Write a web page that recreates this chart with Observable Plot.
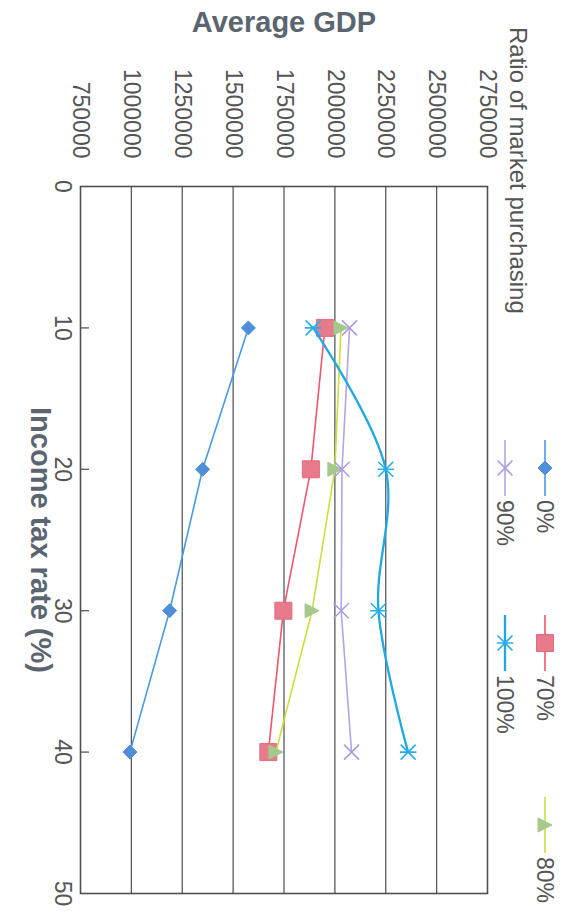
<!DOCTYPE html>
<html>
<head>
<meta charset="utf-8">
<script src="https://cdn.jsdelivr.net/npm/d3@7"></script>
<script src="https://cdn.jsdelivr.net/npm/@observablehq/plot@0.6"></script>
<style>
  html, body { margin: 0; padding: 0; background: #fff; overflow: hidden; }
  body { width: 567px; height: 912px; position: relative; }
  /* the sheet is laid out landscape and turned a quarter clockwise onto the page */
  #sheet {
    position: absolute; left: 0; top: 0; width: 912px; height: 567px;
    transform-origin: 0 0; transform: translate(567px, 0) rotate(90deg);
    font-family: "Liberation Sans", Arial, sans-serif; color: #555;
  }
  #sheet svg.plot { position: absolute; left: 0; top: 0; }
  #legend { position: absolute; left: 0; top: 0; width: 912px; height: 78px; font-size: 23px; color: #555; }
  #legend .ltitle { position: absolute; left: 27px; top: 36px; line-height: 26px; font-size: 24px; white-space: nowrap; }
  #legend .item { position: absolute; display: flex; align-items: center; gap: 4px; line-height: 24px; white-space: nowrap; }
  #legend svg { display: block; overflow: visible; }
</style>
</head>
<body>
<div id="sheet"><div id="chart"></div><div id="legend"></div></div>
<script>
// Income tax rates (%) on the horizontal axis
const taxRates = [10, 20, 30, 40];

// Average GDP for each ratio of market purchasing
const gdp0   = [1575000, 1350000, 1188000, 993000];
const gdp70  = [1951000, 1882000, 1747000, 1673000];
const gdp80  = [2030000, 2000000, 1888000, 1710000];
const gdp90  = [2072000, 2035000, 2031000, 2082000];
const gdp100 = [1893000, 2250000, 2214000, 2360000];

const seriesNames = ["0%", "70%", "80%", "90%", "100%"];
const gdpTicks = [750000, 1000000, 1250000, 1500000, 1750000, 2000000, 2250000, 2500000, 2750000];
const taxTicks = [0, 10, 20, 30, 40, 50];

// spreadsheet-style marker shapes; r is the half-extent of the marker
const half = size => Math.sqrt(size / Math.PI);
const diamondSym = {draw(c, size) { const r = half(size); c.moveTo(0, -r); c.lineTo(r, 0); c.lineTo(0, r); c.lineTo(-r, 0); c.closePath(); }};
const squareSym = {draw(c, size) { const r = half(size); c.moveTo(-r, -r); c.lineTo(r, -r); c.lineTo(r, r); c.lineTo(-r, r); c.closePath(); }};
const triangleSym = {draw(c, size) { const r = half(size); c.moveTo(0, -r); c.lineTo(r, r); c.lineTo(-r, r); c.closePath(); }};
const timesSym = {draw(c, size) { const r = half(size); c.moveTo(-r, -r); c.lineTo(r, r); c.moveTo(r, -r); c.lineTo(-r, r); }};
const asteriskSym = {draw(c, size) { const r = half(size); c.moveTo(-r, -r); c.lineTo(r, r); c.moveTo(r, -r); c.lineTo(-r, r); c.moveTo(0, -r * 1.1); c.lineTo(0, r * 1.1); }};

const series = [
  {name: seriesNames[0], values: gdp0,   line: "#4a9ae2", width: 1.6, curve: "linear",      symbol: diamondSym,  r: 7,   fill: "#4f8fda", stroke: "#4f8fda", sw: 1},
  {name: seriesNames[1], values: gdp70,  line: "#f0566c", width: 1.6, curve: "linear",      symbol: squareSym,   r: 8.5, fill: "#e77b8c", stroke: "#e36a80", sw: 1},
  {name: seriesNames[2], values: gdp80,  line: "#cddf3c", width: 1.6, curve: "linear",      symbol: triangleSym, r: 7,   fill: "#a5c98c", stroke: "#a5c98c", sw: 1},
  {name: seriesNames[3], values: gdp90,  line: "#b4a4e8", width: 1.6, curve: "linear",      symbol: timesSym,    r: 7.5, fill: "none",    stroke: "#ab9be4", sw: 1.6},
  {name: seriesNames[4], values: gdp100, line: "#1fa8e4", width: 2.3, curve: "catmull-rom", symbol: asteriskSym, r: 7.5, fill: "none",    stroke: "#2aaee8", sw: 1.6}
];

const W = 912, H = 567;
const margin = {top: 79, right: 19, bottom: 81, left: 186};
const frameH = H - margin.top - margin.bottom;
const ink = "#555b61";

const seriesMarks = series.flatMap(s => {
  const rows = taxRates.map((t, i) => ({tax: t, gdp: s.values[i]}));
  return [
    Plot.line(rows, {x: "tax", y: "gdp", stroke: s.line, strokeWidth: s.width, curve: s.curve}),
    Plot.dot(rows, {x: "tax", y: "gdp", symbol: s.symbol, r: s.r, fill: s.fill, stroke: s.stroke, strokeWidth: s.sw})
  ];
});

const chart = Plot.plot({
  width: W,
  height: H,
  marginTop: margin.top,
  marginRight: margin.right,
  marginBottom: margin.bottom,
  marginLeft: margin.left,
  style: {fontFamily: "'Liberation Sans', Arial, sans-serif", color: "#555", background: "transparent", overflow: "visible"},
  x: {domain: [0, 50]},
  y: {domain: [750000, 2750000]},
  marks: [
    Plot.ruleY(gdpTicks.slice(1, -1), {stroke: ink, strokeWidth: 1.3}),
    Plot.ruleX(taxTicks.slice(1, -1), {stroke: ink, strokeWidth: 1.3, insetTop: frameH - 8}),
    Plot.frame({stroke: "#4a5056", strokeWidth: 1.6}),
    Plot.axisY({ticks: gdpTicks, tickFormat: d3.format("d"), tickSize: 0, tickPadding: 28, fontSize: 23, label: null}),
    Plot.axisY({ticks: [], tickSize: 0, label: "Average GDP", labelAnchor: "center", labelArrow: "none", labelOffset: 175, fontSize: 29, fontWeight: "bold", fill: "#5a6570"}),
    Plot.axisX({ticks: taxTicks, tickSize: 0, tickPadding: 9, fontSize: 23, label: null}),
    Plot.axisX({ticks: [], tickSize: 0, label: "Income tax rate (%)", labelAnchor: "center", labelArrow: "none", labelOffset: 50, fontSize: 29, fontWeight: "bold", fill: "#5a6570"}),
    ...seriesMarks
  ]
});
document.getElementById("chart").append(chart);

// legend: title on the left, entries in a three-column grid
const legend = d3.select("#legend");
legend.append("div").attr("class", "ltitle").text("Ratio of market purchasing");
const colX = [440, 615, 797];
const rowY = [22, 62];
series.forEach((s, i) => {
  const item = legend.append("div").attr("class", "item")
    .style("left", colX[i % 3] + "px")
    .style("top", (rowY[Math.floor(i / 3)] - 12) + "px");
  const svg = item.append("svg").attr("width", 56).attr("height", 24);
  svg.append("line").attr("x1", 0).attr("x2", 56).attr("y1", 12).attr("y2", 12)
    .attr("stroke", s.line).attr("stroke-width", s.width);
  svg.append("path").attr("transform", "translate(28,12)")
    .attr("d", d3.symbol(s.symbol, Math.PI * s.r * s.r)())
    .attr("fill", s.fill).attr("stroke", s.stroke).attr("stroke-width", s.sw);
  item.append("span").text(s.name);
});
</script>
</body>
</html>
